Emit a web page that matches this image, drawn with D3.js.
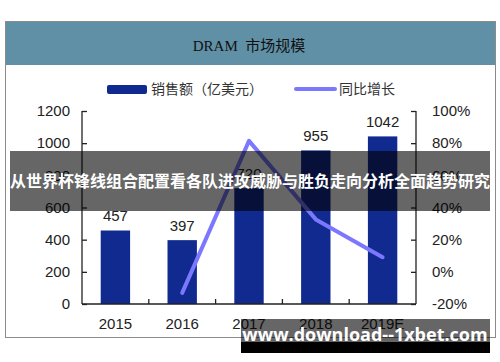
<!DOCTYPE html>
<html>
<head>
<meta charset="utf-8">
<script src="https://cdn.jsdelivr.net/npm/d3@7/dist/d3.min.js"></script>
<style>
body { margin: 0; background: #fff; }
</style>
</head>
<body>
<div id="chart"></div>
<script>
// data
var years = ["2015", "2016", "2017", "2018", "2019E"];
var sales = [457, 397, 720, 955, 1042];
var growth = [null, -13.1, 81.4, 32.6, 9.1];
var leftTicks = [0, 200, 400, 600, 800, 1000, 1200];
var rightTicks = [-20, 0, 20, 40, 60, 80, 100];

var svg = d3.select("#chart")
	.append("svg")
	.attr("width", 500)
	.attr("height", 362);

// frame + header
svg.append("rect")
	.attr("x", 5.5).attr("y", 21.5)
	.attr("width", 490).attr("height", 316)
	.attr("fill", "#fff")
	.attr("stroke", "#8a8a8a");
svg.append("rect")
	.attr("x", 6).attr("y", 22)
	.attr("width", 489).attr("height", 43)
	.attr("fill", "#5f90a6");
svg.append("text")
	.attr("x", 249).attr("y", 51)
	.attr("text-anchor", "middle")
	.attr("font-family", "'Liberation Serif', 'Noto Sans CJK SC'")
	.attr("font-size", 15)
	.attr("fill", "#111")
	.style("white-space", "pre")
	.text("DRAM  市场规模");

// legend
svg.append("rect")
	.attr("x", 107).attr("y", 85)
	.attr("width", 40).attr("height", 9)
	.attr("rx", 2)
	.attr("fill", "#102a8f");
svg.append("text")
	.attr("x", 151).attr("y", 94)
	.attr("font-family", "'Noto Sans CJK SC'")
	.attr("font-size", 14)
	.attr("fill", "#333")
	.text("销售额（亿美元）");
svg.append("line")
	.attr("x1", 296).attr("x2", 335)
	.attr("y1", 89).attr("y2", 89)
	.attr("stroke", "#7b78ff")
	.attr("stroke-width", 4)
	.attr("stroke-linecap", "round");
svg.append("text")
	.attr("x", 339).attr("y", 94)
	.attr("font-family", "'Noto Sans CJK SC'")
	.attr("font-size", 14)
	.attr("fill", "#333")
	.text("同比增长");

// scales
var x = d3.scaleBand().domain(years).range([82, 416]);
var yL = d3.scaleLinear().domain([0, 1200]).range([304, 111]);
var yR = d3.scaleLinear().domain([-20, 100]).range([304, 111]);

var g = svg.append("g");

// bars
g.selectAll("rect.bar")
	.data(sales)
	.enter()
	.append("rect")
	.attr("class", "bar")
	.attr("x", function(d, i){ return x(years[i]) + x.bandwidth() * 0.28; })
	.attr("width", x.bandwidth() * 0.44)
	.attr("y", function(d){ return yL(d); })
	.attr("height", function(d){ return yL(0) - yL(d); })
	.attr("fill", "#102a8f");

g.selectAll("text.val")
	.data(sales)
	.enter()
	.append("text")
	.attr("class", "val")
	.attr("x", function(d, i){ return x(years[i]) + x.bandwidth() / 2; })
	.attr("y", function(d){ return yL(d) - 9; })
	.attr("text-anchor", "middle")
	.attr("font-family", "'Liberation Sans', Arial")
	.attr("font-size", 15)
	.attr("fill", "#222")
	.text(function(d){ return d; });

// growth line
var pts = growth.map(function(d, i){ return [years[i], d]; })
	.filter(function(p){ return p[1] !== null; });
var line = d3.line()
	.x(function(p){ return x(p[0]) + x.bandwidth() / 2; })
	.y(function(p){ return yR(p[1]); });
g.append("path")
	.datum(pts)
	.attr("d", line)
	.attr("fill", "none")
	.attr("stroke", "#7b78ff")
	.attr("stroke-width", 4)
	.attr("stroke-linecap", "round")
	.attr("stroke-linejoin", "round");

// axes
var axisFont = function(sel){
	sel.selectAll("text")
		.attr("font-family", "'Liberation Sans', Arial")
		.attr("font-size", 15)
		.attr("fill", "#222");
	sel.selectAll("line, path").attr("stroke", "#222").attr("stroke-width", 1.3);
	sel.select(".domain").remove();
};

svg.append("g")
	.attr("transform", "translate(82,0)")
	.call(d3.axisLeft(yL).tickValues(leftTicks).tickSize(-5).tickPadding(12)
		.tickFormat(d3.format("d")))
	.call(axisFont);
svg.append("g")
	.attr("transform", "translate(416,0)")
	.call(d3.axisRight(yR).tickValues(rightTicks).tickSize(-5).tickPadding(16)
		.tickFormat(function(d){ return d + "%"; }))
	.call(axisFont);

svg.append("line").attr("x1", 82).attr("x2", 82).attr("y1", 111).attr("y2", 304)
	.attr("stroke", "#222").attr("stroke-width", 1.3);
svg.append("line").attr("x1", 416).attr("x2", 416).attr("y1", 111).attr("y2", 304)
	.attr("stroke", "#222").attr("stroke-width", 1.3);
svg.append("line").attr("x1", 82).attr("x2", 416).attr("y1", 304).attr("y2", 304)
	.attr("stroke", "#222").attr("stroke-width", 1.3);

// x ticks at band boundaries
svg.selectAll("line.xt")
	.data(years.slice(1))
	.enter()
	.append("line")
	.attr("x1", function(d){ return x(d); })
	.attr("x2", function(d){ return x(d); })
	.attr("y1", 304).attr("y2", 299)
	.attr("stroke", "#222").attr("stroke-width", 1.3);

svg.selectAll("text.xl")
	.data(years)
	.enter()
	.append("text")
	.attr("x", function(d){ return x(d) + x.bandwidth() / 2; })
	.attr("y", 329)
	.attr("text-anchor", "middle")
	.attr("font-family", "'Liberation Sans', Arial")
	.attr("font-size", 15)
	.attr("fill", "#222")
	.text(function(d){ return d; });

// overlay banner
svg.append("rect")
	.attr("x", 10).attr("y", 151)
	.attr("width", 480).attr("height", 60)
	.attr("fill", "rgba(0,0,0,0.6)");
svg.append("text")
	.attr("x", 250).attr("y", 187)
	.attr("text-anchor", "middle")
	.attr("font-family", "'Noto Sans CJK SC'")
	.attr("font-weight", "bold")
	.attr("font-size", 16)
	.attr("fill", "#fff")
	.text("从世界杯锋线组合配置看各队进攻威胁与胜负走向分析全面趋势研究");

// bottom watermark
svg.append("rect")
	.attr("x", 241).attr("y", 319)
	.attr("width", 249).attr("height", 23)
	.attr("fill", "rgba(0,0,0,0.6)");
svg.append("rect")
	.attr("x", 241).attr("y", 342)
	.attr("width", 249).attr("height", 11)
	.attr("fill", "#000");
svg.append("text")
	.attr("x", 365).attr("y", 341)
	.attr("text-anchor", "middle")
	.attr("font-family", "'Open Sans', 'DejaVu Sans'")
	.attr("font-weight", "bold")
	.attr("font-size", 18)
	.attr("fill", "#fff")
	.text("www.download--1xbet.com");
</script>
</body>
</html>
